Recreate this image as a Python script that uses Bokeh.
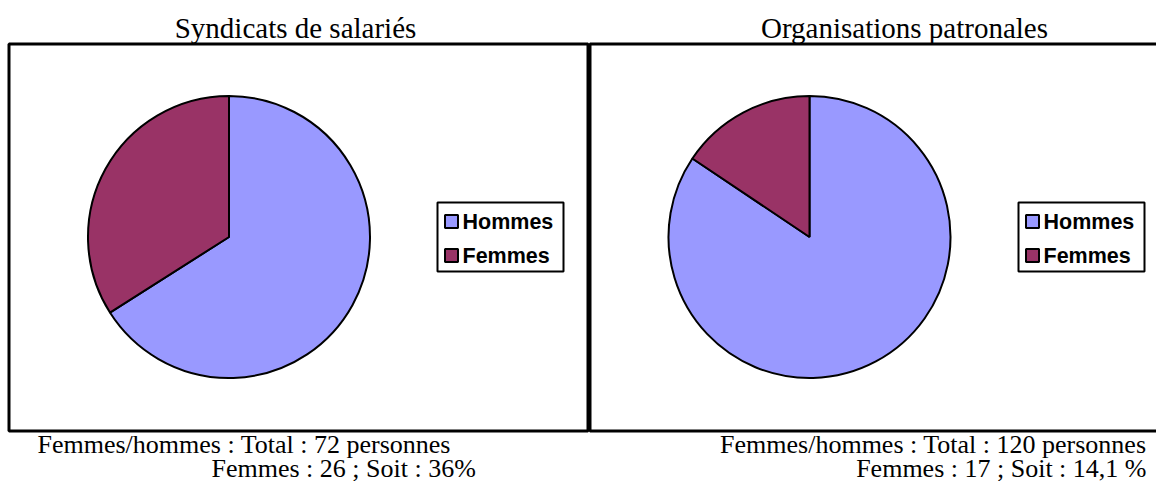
import math
from bokeh.plotting import figure
from bokeh.models import Range1d
from bokeh.core.properties import value
from bokeh.embed import file_html
from bokeh.resources import INLINE

# ---- data -------------------------------------------------------------
categories = ["Hommes", "Femmes"]
colors = ["#9999FF", "#993366"]
titles = ["Syndicats de salariés", "Organisations patronales"]
shares_syndicats = [66.0, 34.0]      # Hommes, Femmes
shares_patronales = [84.4, 15.6]     # Hommes, Femmes
notes_syndicats = ["Femmes/hommes : Total : 72 personnes",
                   "Femmes : 26 ;  Soit : 36%"]
notes_patronales = ["Femmes/hommes : Total : 120 personnes",
                    "Femmes : 17 ; Soit : 14,1 %"]

# ---- layout (screen pixels; y axis = -screen_y) ------------------------
W, H = 1156, 488
p = figure(width=W, height=H, x_range=Range1d(0, W), y_range=Range1d(-H, 0),
           output_backend="svg", toolbar_location=None, min_border=0)
p.axis.visible = False
p.grid.visible = False
p.outline_line_color = None
p.background_fill_color = "white"
p.border_fill_color = "white"

serif = value("Liberation Serif")
sans = value("Liberation Sans")

panels = [
    dict(shares=shares_syndicats, title=titles[0], notes=notes_syndicats,
         box=(8.5, 587.5), cx=228.5, title_x=295, legend_x=437,
         note_x=[(37, "left"), (211, "left")]),
    dict(shares=shares_patronales, title=titles[1], notes=notes_patronales,
         box=(589.5, 1170), cx=809, title_x=904, legend_x=1018,
         note_x=[(1146, "right"), (1146, "right")]),
]

box_top, box_bottom = 43.5, 430.5
cy, radius = 236.5, 141

for pn in panels:
    # frame
    l, r = pn["box"]
    p.quad(left=[l], right=[r], top=[-box_top], bottom=[-box_bottom],
           fill_color=None, line_color="black", line_width=3)

    # pie: Femmes counter-clockwise from 12 o'clock, Hommes the rest
    hommes, femmes = pn["shares"]
    total = hommes + femmes
    a0 = math.pi / 2
    a1 = a0 + 2 * math.pi * femmes / total
    p.wedge(x=[pn["cx"], pn["cx"]], y=[-cy, -cy], radius=radius, radius_units="screen",
            start_angle=[a1, a0], end_angle=[a0 + 2 * math.pi, a1],
            direction="anticlock", fill_color=colors, line_color="black", line_width=2)

    # title
    p.text(x=[pn["title_x"]], y=[-27], text=[pn["title"]], text_font=serif,
           text_font_size="29px", text_align="center", text_baseline="middle",
           text_color="black")

    # legend
    lx = pn["legend_x"]
    p.quad(left=[lx], right=[lx + 126], top=[-202], bottom=[-271],
           fill_color="white", line_color="black", line_width=2)
    rows = [221, 255]
    p.rect(x=[lx + 14, lx + 14], y=[-rows[0], -rows[1]], width=13, height=13,
           width_units="screen", height_units="screen",
           fill_color=colors, line_color="black", line_width=2)
    p.text(x=[lx + 25, lx + 25], y=[-rows[0], -rows[1]], text=categories,
           text_font=sans, text_font_style="bold", text_font_size="21.5px",
           text_align="left", text_baseline="middle", text_color="black")

    # notes under the panel
    for (nx, align), ny, txt in zip(pn["note_x"], [444, 468], pn["notes"]):
        p.text(x=[nx], y=[-ny], text=[txt], text_font=serif, text_font_size="26px",
               text_align=align, text_baseline="middle", text_color="black")

open("out.html", "w").write(file_html(p, INLINE))
